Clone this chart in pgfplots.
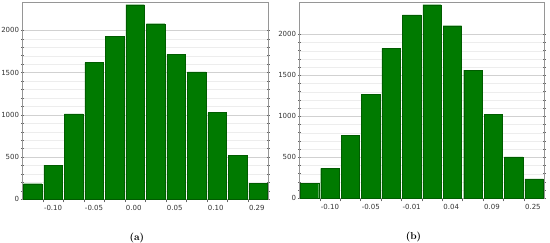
\documentclass[border=0pt]{standalone}
\usepackage{fontspec}
\setsansfont{DejaVu Sans}
\usepackage{pgfplots}
\pgfplotsset{compat=1.18}

\definecolor{barfill}{RGB}{0,122,0}
\definecolor{baredge}{RGB}{0,92,0}
\definecolor{axisgray}{RGB}{150,150,150}

\pgfplotsset{
  histo/.style={
    scale only axis,
    ybar, bar width=0.9,
    xmin=0, xmax=12, ymin=0,
    axis line style={axisgray},
    xtick={1,...,11},
    xtick pos=bottom, xtick align=outside,
    ytick={0,500,...,2000},
    minor y tick num=4,
    ytick pos=both, ytick align=center,
    major tick length=3pt, minor tick length=2.5pt,
    tick style={black!60, line width=0.4pt},
    ymajorgrids, yminorgrids,
    major grid style={black!18, line width=0.4pt},
    minor grid style={black!7, line width=0.3pt},
    tick label style={font=\sffamily\fontsize{7}{8}\selectfont, black!80},
    /pgf/number format/assume math mode=true,
    /pgf/number format/1000 sep={},
    xticklabel style={anchor=north west, inner sep=1pt, yshift=-1.5pt},
    yticklabel style={inner sep=1.5pt},
    xlabel style={font=\bfseries\fontsize{10}{12}\selectfont},
  },
  histbar/.style={fill=barfill, draw=baredge, line width=0.3pt},
}

\begin{document}
\begin{tikzpicture}
\path[use as bounding box] (0,0) rectangle (550pt,243pt);

\begin{axis}[histo,
  at={(22.3pt,43.7pt)}, anchor=south west,
  width=246pt, height=196.6pt,
  ymax=2327,
  xticklabels={-0.10,,-0.05,,0.00,,0.05,,0.10,,0.29},
  xlabel={(a)},
  xlabel style={at={(axis description cs:0.466,-0.197)}, anchor=center},
]
\addplot+[histbar] coordinates {
(0.5,185) (1.5,405) (2.5,1012) (3.5,1618) (4.5,1930) (5.5,2303)
(6.5,2078) (7.5,1714) (8.5,1508) (9.5,1026) (10.5,518) (11.5,192)
};
\end{axis}

\begin{axis}[histo,
  at={(299.3pt,44.7pt)}, anchor=south west,
  width=245pt, height=195.6pt,
  ymax=2385,
  xticklabels={-0.10,,-0.05,,-0.01,,0.04,,0.09,,0.25},
  xlabel={(b)},
  xlabel style={at={(axis description cs:0.466,-0.197)}, anchor=center},
]
\addplot+[histbar] coordinates {
(0.5,180) (1.5,364) (2.5,769) (3.5,1270) (4.5,1828) (5.5,2235)
(6.5,2361) (7.5,2104) (8.5,1563) (9.5,1022) (10.5,505) (11.5,236)
};
\end{axis}
\end{tikzpicture}
\end{document}
